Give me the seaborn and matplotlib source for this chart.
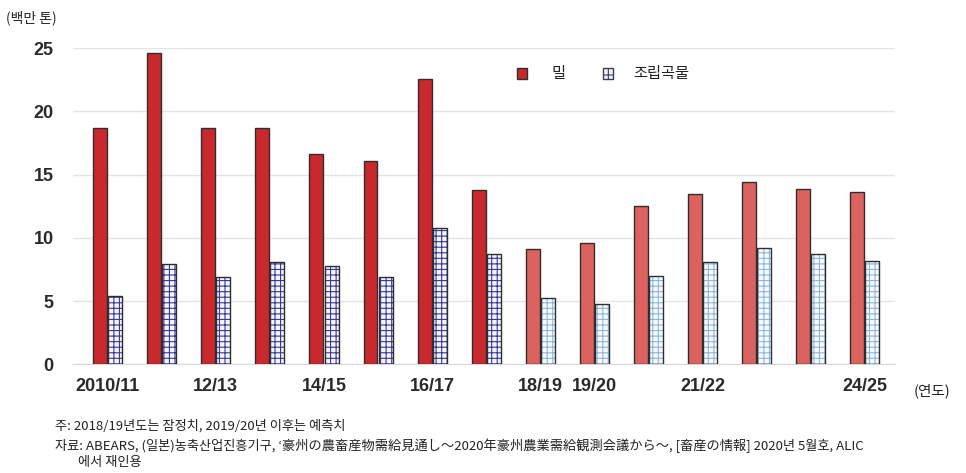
import matplotlib
matplotlib.use("Agg")
import matplotlib.pyplot as plt
from matplotlib.patches import Rectangle
import numpy as np
import pandas as pd
import seaborn as sns

years = ["2010/11", "11/12", "12/13", "13/14", "14/15", "15/16", "16/17", "17/18",
         "18/19", "19/20", "20/21", "21/22", "22/23", "23/24", "24/25"]
shown_labels = {"2010/11", "12/13", "14/15", "16/17", "18/19", "19/20", "21/22", "24/25"}
wheat = [18.7, 24.6, 18.7, 18.7, 16.6, 16.1, 22.6, 13.8, 9.1, 9.6, 12.5, 13.5, 14.4, 13.9, 13.6]
coarse = [5.4, 7.9, 6.9, 8.1, 7.8, 6.9, 10.8, 8.7, 5.2, 4.8, 7.0, 8.1, 9.2, 8.7, 8.2]
crops = ["밀", "조립곡물"]
n_actual = 8  # 18/19 onward drawn lighter (provisional / forecast)

df = pd.DataFrame({
    "year": years * 2,
    "crop": [crops[0]] * len(years) + [crops[1]] * len(years),
    "value": wheat + coarse,
})

sns.set_style("white")
plt.rcParams["font.family"] = ["Noto Sans CJK KR", "DejaVu Sans"]
plt.rcParams["hatch.linewidth"] = 0.8

EDGE = "#2e2e2e"
WHEAT_DARK = "#c9282d"
WHEAT_LIGHT = "#dc625f"
GRAIN_DARK_FACE = "#f4f4ff"
GRAIN_DARK_HATCH = "#3a3a96"
GRAIN_LIGHT_FACE = "#f6faff"
GRAIN_LIGHT_HATCH = "#8fb6da"

fig = plt.figure(figsize=(9.66, 4.73), dpi=100)
ax = fig.add_axes([0.0756, 0.230, 0.851, 0.668])

sns.barplot(data=df, x="year", y="value", hue="crop", order=years, hue_order=crops,
            width=0.56, gap=0.08, ax=ax, legend=False, edgecolor=EDGE, linewidth=1.0)

wheat_bars, grain_bars = ax.containers[0], ax.containers[1]
for i, p in enumerate(wheat_bars):
    p.set_facecolor(WHEAT_DARK if i < n_actual else WHEAT_LIGHT)
    p.set_edgecolor(EDGE)
    p.set_zorder(3)
for i, p in enumerate(grain_bars):
    face = GRAIN_DARK_FACE if i < n_actual else GRAIN_LIGHT_FACE
    hatch_c = GRAIN_DARK_HATCH if i < n_actual else GRAIN_LIGHT_HATCH
    p.set_facecolor(face)
    p.set_edgecolor(hatch_c)
    p.set_hatch("+++")
    p.set_linewidth(0.0)
    p.set_zorder(3)
    ax.add_patch(Rectangle((p.get_x(), p.get_y()), p.get_width(), p.get_height(),
                           fill=False, edgecolor=EDGE, linewidth=1.0, zorder=4))

ax.set_ylim(0, 25)
ax.set_xlim(-0.64, len(years) - 0.44)
ax.set_yticks([0, 5, 10, 15, 20, 25])
ax.yaxis.grid(True, color="#e4e4e4", linewidth=1.0, zorder=0)
ax.set_axisbelow(True)
for s in ["top", "right", "left"]:
    ax.spines[s].set_visible(False)
ax.spines["bottom"].set_color("#d8d8d8")
ax.set_xlabel("")
ax.set_ylabel("")

ax.set_xticks(range(len(years)))
ax.set_xticklabels([y if y in shown_labels else "" for y in years])
ax.set_xticks(np.arange(-0.5, len(years), 1.0), minor=True)
ax.tick_params(axis="x", which="major", length=0, pad=10)
ax.tick_params(axis="x", which="minor", length=3, color="#d8d8d8", direction="out")
ax.tick_params(axis="y", length=0, pad=14)
for lab in ax.get_xticklabels() + ax.get_yticklabels():
    lab.set_fontfamily(["Liberation Sans", "DejaVu Sans"])
    lab.set_fontweight("bold")
    lab.set_fontsize(13)
    lab.set_color("#2a2a2a")

# legend
lx, ly = 0.535, 0.834
fig.patches.append(Rectangle((lx, ly), 0.011, 0.023, facecolor=WHEAT_DARK, edgecolor=EDGE,
                             linewidth=1.0, transform=fig.transFigure, zorder=5))
fig.text(lx + 0.036, ly + 0.011, crops[0], fontsize=11, va="center", color="#222222")
gx = 0.624
fig.patches.append(Rectangle((gx, ly), 0.011, 0.023, facecolor=GRAIN_DARK_FACE,
                             edgecolor="#3a3a5a", hatch="+", linewidth=1.0,
                             transform=fig.transFigure, zorder=5))
fig.text(gx + 0.032, ly + 0.011, crops[1], fontsize=11, va="center", color="#222222")

fig.text(0.006, 0.962, "(백만 톤)", fontsize=10, va="center", color="#222222")
fig.text(0.946, 0.173, "(연도)", fontsize=10.5, va="center", color="#222222")

fig.text(0.057, 0.100, "주: 2018/19년도는 잠정치, 2019/20년 이후는 예측치",
         fontsize=9.5, va="center", color="#222222")
fig.text(0.057, 0.057,
         "자료: ABEARS, (일본)농축산업진흥기구, ‘豪州の農畜産物需給見通し～2020年豪州農業需給観測会議から～, "
         "[畜産の情報] 2020년 5월호, ALIC",
         fontsize=9.5, va="center", color="#222222")
fig.text(0.081, 0.022, "에서 재인용", fontsize=9.5, va="center", color="#222222")

fig.savefig("out.png", dpi=100, facecolor="white")
